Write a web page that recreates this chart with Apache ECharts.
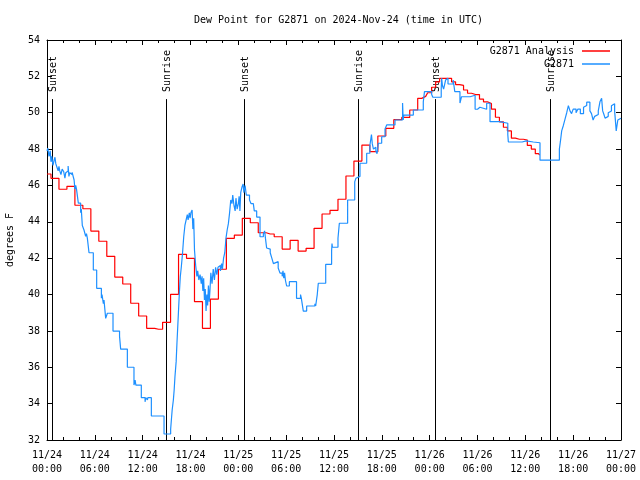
<!DOCTYPE html>
<html><head><meta charset="utf-8">
<script src="https://cdn.jsdelivr.net/npm/echarts@6/dist/echarts.min.js"></script>
<style>html,body{margin:0;padding:0;background:#fff}#c{width:640px;height:480px}</style>
</head><body><div id="c"></div>
<script>
// hours since 2024-11-24 00:00 UTC
const titleText = 'Dew Point for G2871 on 2024-Nov-24 (time in UTC)';
const yAxisTitle = 'degrees F';
const seriesNames = ['G2871 Analysis', 'G2871'];
const xTickLabels = ['11/24\n00:00','11/24\n06:00','11/24\n12:00','11/24\n18:00','11/25\n00:00','11/25\n06:00','11/25\n12:00','11/25\n18:00','11/26\n00:00','11/26\n06:00','11/26\n12:00','11/26\n18:00','11/27\n00:00'];
const sunHours = [0.66, 14.96, 24.74, 39.05, 48.71, 63.13];
const sunLabels = ['Sunset','Sunrise','Sunset','Sunrise','Sunset','Sunrise'];
const sunLineTop = 50.75;

const analysisData = [
[0,46.63],[1,46.39],[2,45.79],[3,45.95],[4,44.91],[5,44.72],[6,43.49],[7,42.93],[8,42.10],[9,40.96],
[10,40.58],[11,39.52],[12,38.82],[13,38.14],[14,38.09],[15,38.47],[16,40.01],[17,42.21],[18,41.99],[19,39.61],
[20,38.14],[21,39.75],[22,41.39],[23,43.09],[24,43.27],[25,44.19],[26,43.95],[27,43.40],[28,43.33],[29,43.18],
[30,42.50],[31,42.98],[32,42.39],[33,42.54],[34,43.64],[35,44.43],[36,44.63],[37,45.24],[38,46.52],[39,47.34],
[40,48.22],[41,47.86],[42,48.72],[43,49.14],[44,49.62],[45,49.74],[46,50.15],[47,50.79],
[47.5,50.9],[48,51.1],[48.5,51.4],[49,51.7],[49.5,51.89],[50,51.89],[50.5,51.89],[51,51.7],[51.5,51.55],[52,51.5],
[52.5,51.25],[53,51.07],[53.5,51.0],[54,51.0],[54.5,50.75],[55,50.6],[55.5,50.5],[56,50.2],[56.5,49.75],[57,49.5],
[57.5,49.2],[58,49.0],[58.5,48.6],[59,48.54],[59.5,48.54],[60,48.5],[60.5,48.2],[61,48.0],[61.5,47.75],[61.8,47.67]
];

const obsData = [
[0,47.9],[0.1,48.05],[0.25,47.6],[0.4,47.9],[0.5,47.3],[0.6,47.6],[0.75,47.1],[0.9,47.4],[1.0,47.55],[1.1,47.2],
[1.25,47.0],[1.4,46.8],[1.5,47.05],[1.6,46.8],[1.75,46.6],[1.9,46.9],[2.0,47.0],[2.1,46.75],[2.25,46.4],[2.35,46.7],
[2.5,46.8],[2.65,47.07],[2.75,46.5],[2.85,46.7],[3.0,46.6],[3.15,46.72],[3.4,46.3],[3.5,45.8],[3.6,46.0],[3.7,45.8],
[3.93,45.03],[4.22,44.5],[4.3,44.7],[4.43,43.8],[4.64,43.55],[4.85,43.2],[4.95,43.35],[5.06,43.1],[5.27,42.3],[5.81,41.35],
[6.23,40.34],[6.82,39.8],[6.9,40.0],[7.07,39.5],[7.15,39.7],[7.36,38.69],[7.57,38.97],[8.28,37.99],[9.1,37.7],[9.24,37.0],
[10.08,36.0],[10.91,35.02],[11.05,35.3],[11.15,35.02],[11.83,34.33],[12.3,34.1],[12.38,34.33],[12.6,34.2],[12.65,34.33],[13.09,33.32],
[13.9,33.4],[13.95,33.32],[14.68,32.33],[15.51,32.6],[15.6,33.1],[15.7,33.65],[15.85,34.2],[15.95,34.75],[16.05,35.48],[16.2,36.31],
[16.3,37.32],[16.4,38.23],[16.5,39.15],[16.6,40.07],[16.72,40.98],[16.85,41.53],[17.0,42.27],[17.15,43.18],[17.3,43.8],[17.45,44.1],
[17.6,44.4],[17.7,44.1],[17.85,44.5],[17.95,44.2],[18.05,44.5],[18.2,44.65],[18.3,43.6],[18.4,44.2],[18.5,42.45],[18.65,41.6],
[18.8,41.0],[18.9,41.3],[19.05,40.8],[19.2,41.1],[19.35,40.6],[19.45,41.0],[19.55,40.2],[19.65,40.9],[19.75,39.7],[19.85,40.3],
[19.95,39.1],[20.05,40.0],[20.15,39.4],[20.25,40.5],[20.35,39.6],[20.45,40.3],[20.55,41.2],[20.7,40.6],[20.85,41.4],[21.0,40.8],
[21.15,41.5],[21.3,41.1],[21.45,41.5],[21.6,41.6],[21.75,41.3],[21.9,41.7],[22.0,41.4],[22.15,42.0],[22.3,42.3],[22.45,43.1],
[22.6,43.55],[22.75,43.9],[22.9,44.48],[23.05,45.2],[23.2,45.0],[23.3,45.47],[23.45,44.9],[23.6,44.6],[23.7,45.3],[23.85,44.7],
[24.0,45.0],[24.1,45.4],[24.2,44.6],[24.3,45.6],[24.45,45.9],[24.6,46.08],[24.7,45.6],[24.85,46.0],[25.0,45.47],[25.4,45.2],
[25.6,45.0],[25.88,45.0],[26.0,44.6],[26.3,44.26],[26.72,43.18],[27.14,43.35],[27.3,43.5],[27.4,43.1],[27.55,42.56],[27.8,42.5],
[28.0,42.3],[28.2,42.0],[28.4,41.7],[28.6,41.81],[29.0,41.46],[29.23,41.18],[29.5,41.0],[29.6,41.3],[29.7,40.9],[29.8,41.2],
[29.9,40.8],[30.06,40.47],[30.4,40.71],[31.3,39.79],[31.8,40.0],[31.9,39.8],[32.15,39.09],[32.57,39.37],[33.6,39.5],[33.7,39.37],
[33.9,40.0],[34.03,40.62],[34.96,41.66],[35.7,42.4],[35.75,42.8],[35.8,42.6],[36.5,43.1],[36.67,43.92],[37.71,45.2],[38.6,46.2],
[38.75,46.4],[39.0,46.5],[39.26,47.22],[40.1,47.77],[40.5,48.2],[40.6,48.5],[40.7,48.8],[40.8,48.3],[40.95,48.0],[41.1,48.1],
[41.25,47.9],[41.4,47.75],[41.56,48.32],[41.98,48.68],[42.4,49.1],[42.61,49.33],[43.65,49.6],[44.6,50.53],[44.68,49.6],[44.75,49.87],
[45.95,50.15],[47.2,50.6],[47.35,51.16],[48.25,51.0],[48.4,50.85],[49.45,51.3],[49.5,51.9],[49.6,51.5],[49.75,51.3],[49.9,51.6],
[50.0,51.8],[50.15,51.9],[50.3,51.58],[50.95,51.8],[51.15,51.16],[51.8,50.53],[52.0,50.88],[53.07,50.96],[53.7,50.19],[54.0,50.3],
[54.3,50.19],[55.15,50.52],[55.57,49.51],[56.8,49.42],[57.8,48.8],[57.87,48.39],[59.6,48.45],[60.1,48.39],[61.0,48.35],[61.84,47.39],
[64.27,48.0],[64.4,48.42],[64.56,49.0],[64.77,49.3],[64.98,49.65],[65.19,50.0],[65.4,50.39],[65.6,50.1],[65.8,49.95],[66.0,50.2],
[66.36,50.0],[66.6,50.2],[66.9,49.95],[67.3,50.3],[67.5,50.4],[67.7,50.58],[68.1,50.1],[68.3,49.95],[68.5,49.6],[68.7,49.8],
[68.95,49.9],[69.15,50.1],[69.36,50.6],[69.57,50.8],[69.7,50.1],[69.86,49.9],[70.0,49.7],[70.2,49.8],[70.4,50.0],[70.6,50.1],
[70.8,50.39],[71.0,50.5],[71.2,50.1],[71.4,49.0],[71.6,49.6],[71.85,49.7],[72,49.7]
];

const FONT = 'DejaVu Sans Mono';
const chart = echarts.init(document.getElementById('c'), null, {renderer:'canvas'});

function xAxisCfg(pos, labels) {
  return {
    type:'value', min:0, max:72, interval:6, position:pos, gridIndex:0,
    axisLine:{show:true, onZero:false, lineStyle:{color:'#000', width:1}},
    axisTick:{show:true, inside:true, length:5, lineStyle:{color:'#000', width:1}},
    minorTick:{show:true, splitNumber:3, length:3, lineStyle:{color:'#000', width:1}},
    splitLine:{show:false}, minorSplitLine:{show:false},
    axisLabel:{show:labels, formatter:v => xTickLabels[Math.round(v/6)], fontFamily:FONT, fontSize:10, color:'#000', lineHeight:14, margin:8}
  };
}
function yAxisCfg(pos, labels) {
  return {
    type:'value', min:32, max:54, interval:2, position:pos, gridIndex:0,
    axisLine:{show:true, onZero:false, lineStyle:{color:'#000', width:1}},
    axisTick:{show:true, inside:true, length:5, lineStyle:{color:'#000', width:1}},
    splitLine:{show:false},
    axisLabel:{show:labels, fontFamily:FONT, fontSize:10, color:'#000', margin:7},
    name: labels ? yAxisTitle : '', nameLocation:'middle', nameGap:32, nameRotate:90,
    nameTextStyle:{fontFamily:FONT, fontSize:10, color:'#000'}
  };
}
function legendCfg(name, top) {
  return {
    data:[name], right:30, top:top, orient:'horizontal', align:'right', padding:0,
    itemWidth:28, itemHeight:1.5, icon:'rect', itemGap:0, selectedMode:false,
    textStyle:{fontFamily:FONT, fontSize:10, color:'#000', padding:[0,3,0,0]}
  };
}

chart.setOption({
  animation:false,
  backgroundColor:'#fff',
  title:{text:titleText, left:189, top:9, textStyle:{fontFamily:FONT, fontSize:10, fontWeight:'normal', color:'#000', lineHeight:12}},
  grid:{left:47, right:19, top:40, bottom:40, containLabel:false, outerBoundsMode:'none'},
  legend:[legendCfg(seriesNames[0], 46), legendCfg(seriesNames[1], 59)],
  xAxis:[xAxisCfg('bottom', true), xAxisCfg('top', false)],
  yAxis:[yAxisCfg('left', true), yAxisCfg('right', false)],
  series:[
    {
      type:'custom', name:'sun', xAxisIndex:0, yAxisIndex:0, z:1,
      data: sunHours.map(h => [h]),
      encode:{x:0},
      renderItem:(params, api) => {
        const h = api.value(0);
        const p0 = api.coord([h, 32]);
        const p1 = api.coord([h, sunLineTop]);
        const x = Math.round(p0[0]) + 0.5;
        return {type:'group', children:[
          {type:'line', shape:{x1:x, y1:p0[1], x2:x, y2:p1[1]}, style:{stroke:'#000', lineWidth:1}},
          {type:'text', x:x + 1, y:p1[1] - 7, rotation:Math.PI/2,
           style:{text:sunLabels[params.dataIndex], font:'10px "DejaVu Sans Mono"', fill:'#000', align:'left', verticalAlign:'middle'}}
        ]};
      }
    },
    {
      type:'line', name:seriesNames[0], data:analysisData, step:'middle', showSymbol:false, symbol:'none',
      color:'#ff0000', lineStyle:{color:'#ff0000', width:1.2}, z:3
    },
    {
      type:'line', name:seriesNames[1], data:obsData, step:'end', showSymbol:false, symbol:'none',
      color:'#1e90ff', lineStyle:{color:'#1e90ff', width:1.2}, z:4
    }
  ]
});
</script>
</body></html>
